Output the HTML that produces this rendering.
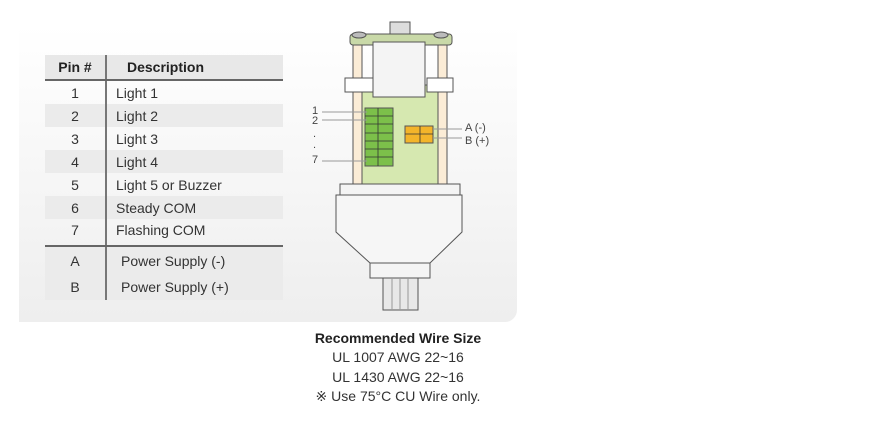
<!DOCTYPE html>
<html><head><meta charset="utf-8"><style>
body{margin:0;width:870px;height:424px;background:#fff;position:relative;overflow:hidden;font-family:"Liberation Sans",sans-serif;color:#333}
.panel{position:absolute;left:19px;top:25px;width:498px;height:297px;background:linear-gradient(#fff,#eeeeee);border-bottom-right-radius:12px}
table{position:absolute;left:45px;top:55px;width:238px;border-collapse:collapse;font-size:14px}
td{height:23px;padding:0;vertical-align:middle}
td.p{width:60px;text-align:center;border-right:2px solid #777}
td.d{padding-left:9px}
tr.g td{background:#ebebeb}
tr.h td{background:#e8e8e8;font-weight:bold;height:24px;border-bottom:2px solid #666;color:#222}
tr.s td{border-bottom:2px solid #666;height:22px;padding-bottom:4px}
tr.x td{height:26px}
.bt{position:absolute;left:250px;width:296px;text-align:center;font-size:14px;color:#333}
</style></head><body>
<div class="panel"></div>
<table>
<tr class="h"><td class="p">Pin #</td><td class="d" style="padding-left:20px">Description</td></tr>
<tr><td class="p">1</td><td class="d">Light 1</td></tr>
<tr class="g"><td class="p">2</td><td class="d">Light 2</td></tr>
<tr><td class="p">3</td><td class="d">Light 3</td></tr>
<tr class="g"><td class="p">4</td><td class="d">Light 4</td></tr>
<tr><td class="p">5</td><td class="d">Light 5 or Buzzer</td></tr>
<tr class="g"><td class="p">6</td><td class="d">Steady COM</td></tr>
<tr class="s"><td class="p">7</td><td class="d" style="padding-left:9px">Flashing COM</td></tr>
<tr class="x g"><td class="p" style="height:27px">A</td><td class="d" style="padding-left:14px">Power Supply (-)</td></tr>
<tr class="x g"><td class="p">B</td><td class="d" style="padding-left:14px">Power Supply (+)</td></tr>
</table>
<svg width="870" height="424" style="position:absolute;left:0;top:0" font-family="Liberation Sans, sans-serif">
<g stroke="#555" stroke-width="1">
<rect x="390" y="22" width="20" height="12" fill="#ddd"/>
<rect x="350" y="34" width="102" height="11" rx="3" fill="#c9d9a8"/>
<ellipse cx="359" cy="35" rx="7" ry="3" fill="#bbb"/>
<ellipse cx="441" cy="35" rx="7" ry="3" fill="#bbb"/>
<rect x="353" y="45" width="9" height="142" fill="#fbecd6"/>
<rect x="438" y="45" width="9" height="142" fill="#fbecd6"/>
<rect x="362" y="85" width="76" height="102" fill="#d6e8b0"/>
<rect x="373" y="42" width="52" height="55" fill="#f4f4f4"/>
<rect x="345" y="78" width="28" height="14" fill="#fff"/>
<rect x="427" y="78" width="26" height="14" fill="#fff"/>
<rect x="365" y="108" width="28" height="58" fill="#7cc04a"/>
<rect x="405" y="126" width="28" height="17" fill="#f3b42a"/>
<rect x="340" y="184" width="120" height="11" fill="#f4f4f4"/>
<path d="M336 195 H462 V232 L430 263 H370 L336 232 Z" fill="#f6f6f6"/>
<rect x="370" y="263" width="60" height="15" fill="#f4f4f4"/>
<rect x="383" y="278" width="35" height="32" fill="#e8e8e8"/>
</g>
<g stroke="#333" stroke-width="0.8">
<line x1="365" y1="116" x2="393" y2="116"/><line x1="365" y1="124" x2="393" y2="124"/><line x1="365" y1="133" x2="393" y2="133"/><line x1="365" y1="141" x2="393" y2="141"/><line x1="365" y1="149" x2="393" y2="149"/><line x1="365" y1="157" x2="393" y2="157"/>
<line x1="378" y1="108" x2="378" y2="166"/><line x1="405" y1="134" x2="433" y2="134"/><line x1="420" y1="126" x2="420" y2="143"/>
</g>
<g stroke="#999" stroke-width="1">
<line x1="322" y1="112" x2="367" y2="112"/><line x1="322" y1="120" x2="367" y2="120"/><line x1="322" y1="161" x2="367" y2="161"/>
<line x1="433" y1="129" x2="462" y2="129"/><line x1="433" y1="138" x2="462" y2="138"/>
<line x1="392" y1="278" x2="392" y2="310"/><line x1="400" y1="278" x2="400" y2="310"/><line x1="408" y1="278" x2="408" y2="310"/>
</g>
<g font-size="11" fill="#444">
<text x="312" y="114">1</text><text x="312" y="124">2</text><text x="313" y="137">.</text><text x="313" y="148">.</text><text x="312" y="163">7</text>
<text x="465" y="131">A (-)</text><text x="465" y="144">B (+)</text>
</g>
</svg>
<div class="bt" style="top:330px;font-weight:bold;color:#222">Recommended Wire Size</div>
<div class="bt" style="top:349px">UL 1007 AWG 22~16</div>
<div class="bt" style="top:369px">UL 1430 AWG 22~16</div>
<div class="bt" style="top:388px">※ Use 75°C CU Wire only.</div>
</body></html>
